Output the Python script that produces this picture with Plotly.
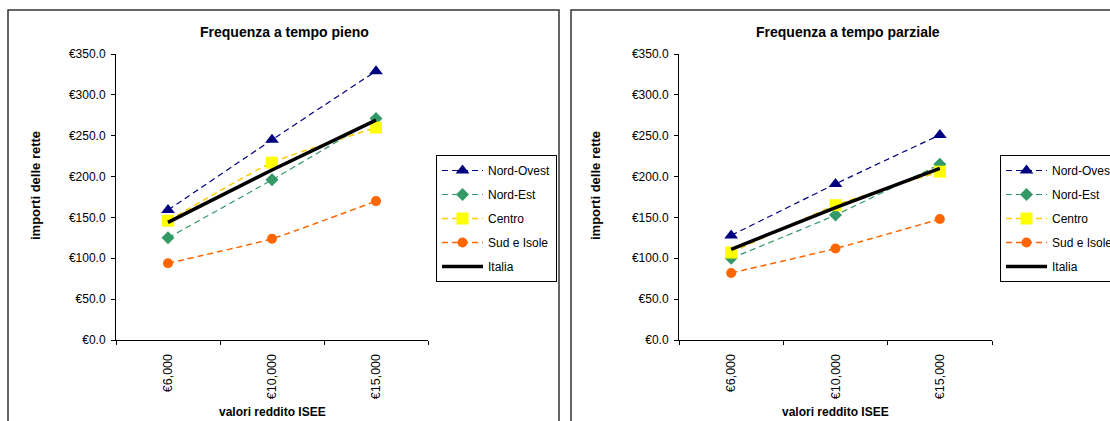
import plotly.graph_objects as go

W, H = 1110, 421

categories = ["€6,000", "€10,000", "€15,000"]
series_names = ["Nord-Ovest", "Nord-Est", "Centro", "Sud e Isole", "Italia"]

pieno_nord_ovest = [159, 245, 329]
pieno_nord_est = [125, 196, 271]
pieno_centro = [146, 217, 260]
pieno_sud_isole = [94, 124, 170]
pieno_italia = [144, 208, 269]

parziale_nord_ovest = [128, 191, 251]
parziale_nord_est = [100, 153, 215]
parziale_centro = [107, 165, 206]
parziale_sud_isole = [82, 112, 148]
parziale_italia = [111, 162, 210]

titles = ["Frequenza a tempo pieno", "Frequenza a tempo parziale"]
y_ticks = [0, 50, 100, 150, 200, 250, 300, 350]
y_tick_labels = ["€0.0", "€50.0", "€100.0", "€150.0", "€200.0", "€250.0", "€300.0", "€350.0"]

styles = {
    "Nord-Ovest": dict(line=dict(color="#000080", width=1.2, dash="6px,4px"),
                       marker=dict(symbol="triangle-up", size=12, color="#000080")),
    "Nord-Est": dict(line=dict(color="#339966", width=1.2, dash="6px,4px"),
                     marker=dict(symbol="diamond", size=10, color="#339966")),
    "Centro": dict(line=dict(color="#FFCC00", width=1.5, dash="6px,4px"),
                   marker=dict(symbol="square", size=12, color="#FFFF00")),
    "Sud e Isole": dict(line=dict(color="#FF6600", width=1.5, dash="6px,4px"),
                        marker=dict(symbol="circle", size=10, color="#FF6600")),
    "Italia": dict(line=dict(color="#000000", width=3.5), marker=None),
}

data_sets = [
    [pieno_nord_ovest, pieno_nord_est, pieno_centro, pieno_sud_isole, pieno_italia],
    [parziale_nord_ovest, parziale_nord_est, parziale_centro, parziale_sud_isole, parziale_italia],
]

def px_x(p):
    return p / W

def px_y(p):
    return 1 - p / H

FONT = "Liberation Sans, Arial, sans-serif"

fig = go.Figure()

panels = [
    dict(xaxis="x", yaxis="y", legend="legend", xdom=(116, 428), border=(8, 559),
         title_x=284, ytitle_x=36, legend_x=436),
    dict(xaxis="x2", yaxis="y2", legend="legend2", xdom=(679, 992), border=(571, 1130),
         title_x=848, ytitle_x=596, legend_x=1000),
]

for i, (panel, values) in enumerate(zip(panels, data_sets)):
    for j, (name, vals) in enumerate(zip(series_names, values)):
        st = styles[name]
        kw = dict(x=categories, y=vals, name=name, xaxis=panel["xaxis"], yaxis=panel["yaxis"],
                  legend=panel["legend"], legendgroup=f"g{i}_{j}",
                  line=dict(shape="spline", smoothing=0.5, **st["line"]))
        if st["marker"] is None:
            kw["mode"] = "lines"
        else:
            kw["mode"] = "lines+markers"
            kw["marker"] = st["marker"]
        fig.add_trace(go.Scatter(**kw))

ydom = (px_y(340), px_y(54))
axis_common_y = dict(range=[0, 350], tickvals=y_ticks, ticktext=y_tick_labels,
                     showgrid=False, zeroline=False, showline=True, linecolor="black",
                     linewidth=1, ticks="outside", ticklen=4, tickcolor="black",
                     ticklabelstandoff=3,
                     tickfont=dict(family=FONT, size=12, color="black"), domain=ydom)
axis_common_x = dict(type="category", range=[-0.5, 2.5], showgrid=False, zeroline=False,
                     showline=True, linecolor="black", linewidth=1, ticks="outside",
                     tickson="boundaries", ticklen=4, tickcolor="black", tickangle=-90,
                     ticklabelstandoff=8,
                     tickfont=dict(family=FONT, size=12.5, color="black"))

fig.update_layout(
    xaxis=dict(domain=[px_x(116), px_x(428)], anchor="y", **axis_common_x),
    yaxis=dict(anchor="x", **axis_common_y),
    xaxis2=dict(domain=[px_x(679), px_x(992)], anchor="y2", **axis_common_x),
    yaxis2=dict(anchor="x2", **axis_common_y),
)

legend_common = dict(xanchor="left", yanchor="top", y=px_y(155), bordercolor="black",
                     borderwidth=1, bgcolor="white", tracegroupgap=5,
                     font=dict(family=FONT, size=12, color="black"), itemwidth=41)
fig.update_layout(
    legend=dict(x=px_x(436), **legend_common),
    legend2=dict(x=px_x(1000), **legend_common),
)

shapes = []
annotations = []
for i, panel in enumerate(panels):
    b0, b1 = panel["border"]
    shapes.append(dict(type="rect", xref="paper", yref="paper", x0=px_x(b0), x1=px_x(b1),
                       y0=px_y(440), y1=px_y(10), line=dict(color="#333333", width=1.5),
                       fillcolor="rgba(0,0,0,0)", layer="below"))
    annotations.append(dict(text=f"<b>{titles[i]}</b>", xref="paper", yref="paper",
                            x=px_x(panel["title_x"]), y=px_y(32), showarrow=False,
                            xanchor="center", yanchor="middle",
                            font=dict(family=FONT, size=14, color="black")))
    annotations.append(dict(text="<b>importi delle rette</b>", xref="paper", yref="paper",
                            x=px_x(panel["ytitle_x"]), y=px_y(186), showarrow=False,
                            textangle=-90, xanchor="center", yanchor="middle",
                            font=dict(family=FONT, size=13, color="black")))
    xd = panel["xdom"]
    annotations.append(dict(text="<b>valori reddito ISEE</b>", xref="paper", yref="paper",
                            x=px_x((xd[0] + xd[1]) / 2), y=px_y(412), showarrow=False,
                            xanchor="center", yanchor="middle",
                            font=dict(family=FONT, size=12, color="black")))

fig.update_layout(
    width=W, height=H, autosize=False,
    margin=dict(l=0, r=0, t=0, b=0, autoexpand=False),
    paper_bgcolor="white", plot_bgcolor="white",
    shapes=shapes, annotations=annotations, showlegend=True,
    font=dict(family=FONT, size=11, color="black"),
)

fig.write_html("out.html", config={"displayModeBar": False},
               post_script="document.body.style.margin='0';document.body.style.overflow='hidden';")
